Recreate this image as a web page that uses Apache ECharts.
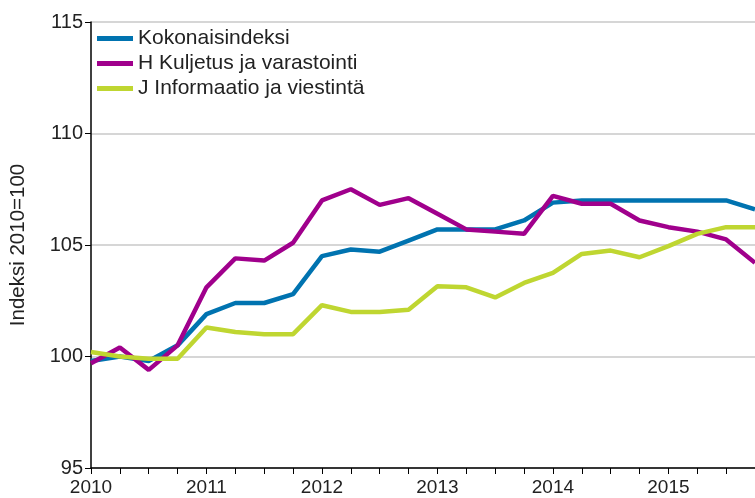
<!DOCTYPE html>
<html lang="fi">
<head>
  <meta charset="UTF-8">
  <title>Indeksi 2010=100</title>
  <style>
    * {
      box-sizing: border-box;
      padding: 0;
      margin: 0;
    }
    html, body, #main {
      width: 100%;
      height: 100%;
      background: #fff;
    }
  </style>
  <script src="https://cdn.jsdelivr.net/npm/echarts@6/dist/echarts.min.js"></script>
</head>
<body>
  <div id="main"></div>
  <script>
    // neljännekset 2010Q1 - 2015Q4
    var quarters = [
      '2010Q1', '2010Q2', '2010Q3', '2010Q4',
      '2011Q1', '2011Q2', '2011Q3', '2011Q4',
      '2012Q1', '2012Q2', '2012Q3', '2012Q4',
      '2013Q1', '2013Q2', '2013Q3', '2013Q4',
      '2014Q1', '2014Q2', '2014Q3', '2014Q4',
      '2015Q1', '2015Q2', '2015Q3', '2015Q4'
    ];
    var kokonaisindeksi = [99.8, 100.0, 99.8, 100.5, 101.9, 102.4, 102.4, 102.8,
      104.5, 104.8, 104.7, 105.2, 105.7, 105.7, 105.7, 106.1,
      106.9, 107.0, 107.0, 107.0, 107.0, 107.0, 107.0, 106.6];
    var kuljetus = [99.7, 100.4, 99.4, 100.5, 103.1, 104.4, 104.3, 105.1,
      107.0, 107.5, 106.8, 107.1, 106.4, 105.7, 105.6, 105.5,
      107.2, 106.85, 106.85, 106.1, 105.8, 105.6, 105.25, 104.2];
    var informaatio = [100.2, 100.0, 99.9, 99.9, 101.3, 101.1, 101.0, 101.0,
      102.3, 102.0, 102.0, 102.1, 103.15, 103.1, 102.65, 103.3,
      103.75, 104.6, 104.75, 104.45, 104.95, 105.5, 105.8, 105.8];
    var yTicks = { min: 95, max: 115, step: 5 };

    var myChart = echarts.init(document.getElementById('main'));
    var font = 'Liberation Sans, Arial, sans-serif';

    function line(name, data, color) {
      return {
        name: name,
        type: 'line',
        data: data,
        symbol: 'none',
        color: color,
        lineStyle: { width: 4.5, color: color },
        emphasis: { disabled: true }
      };
    }

    var option = {
      animation: false,
      grid: { left: 90, top: 22, right: -3, bottom: 30 },
      legend: {
        orient: 'vertical',
        left: 92,
        top: 23,
        icon: 'rect',
        itemWidth: 36,
        itemHeight: 5,
        itemGap: 4,
        textStyle: { fontFamily: font, fontSize: 21, color: '#222' },
        data: ['Kokonaisindeksi', 'H Kuljetus ja varastointi', 'J Informaatio ja viestintä']
      },
      xAxis: {
        type: 'category',
        data: quarters,
        boundaryGap: false,
        axisLine: { lineStyle: { color: '#000', width: 1.5 } },
        axisTick: { interval: 0, length: 6, lineStyle: { color: '#000' } },
        axisLabel: {
          interval: 3,
          margin: 10,
          fontFamily: font,
          fontSize: 19,
          color: '#222',
          formatter: function (v) { return v.slice(0, 4); }
        },
        splitLine: { show: false }
      },
      yAxis: {
        type: 'value',
        min: yTicks.min,
        max: yTicks.max,
        interval: yTicks.step,
        name: 'Indeksi 2010=100',
        nameLocation: 'middle',
        nameGap: 62,
        nameTextStyle: { fontFamily: font, fontSize: 20.5, color: '#222' },
        axisLine: { show: true, lineStyle: { color: '#000', width: 1.5 } },
        axisTick: { show: true, length: 6, lineStyle: { color: '#000' } },
        axisLabel: { margin: 8, fontFamily: font, fontSize: 20, color: '#222' },
        splitLine: { lineStyle: { color: '#c8c8c8', width: 1.5 } }
      },
      series: [
        line('Kokonaisindeksi', kokonaisindeksi, '#0073b0'),
        line('H Kuljetus ja varastointi', kuljetus, '#a0008c'),
        line('J Informaatio ja viestintä', informaatio, '#bfd631')
      ]
    };
    myChart.setOption(option);
    window.onresize = myChart.resize;
  </script>
</body>
</html>
